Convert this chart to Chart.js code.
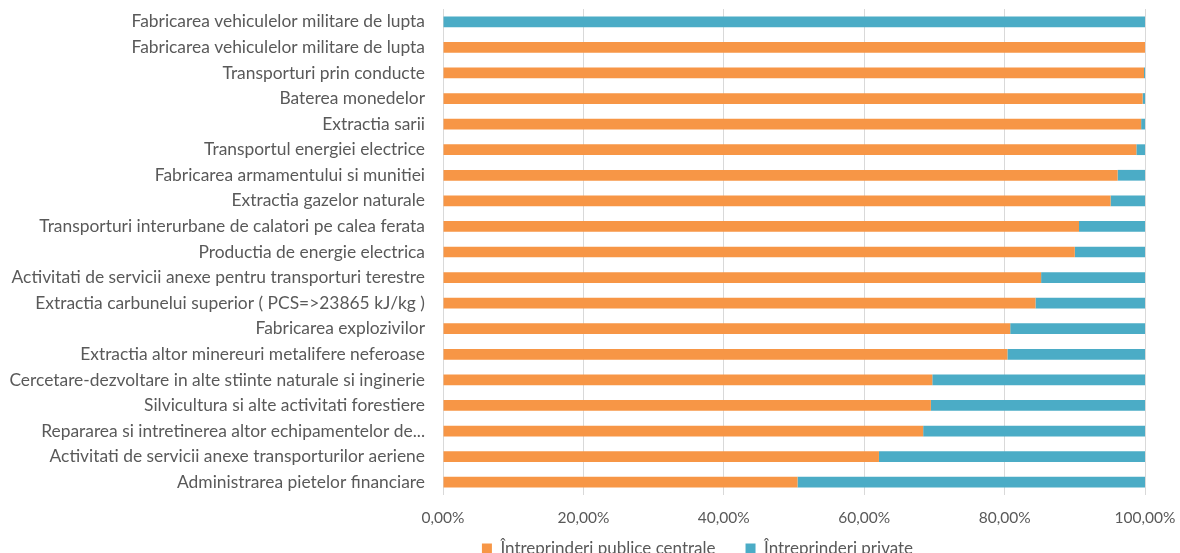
<!DOCTYPE html>
<html>
<head>
<meta charset="utf-8">
<script src="https://cdn.jsdelivr.net/npm/chart.js@4"></script>
<style>
  html, body { margin: 0; padding: 0; background: #fff; overflow: hidden; }
  #wrap { width: 1180px; height: 590px; }
</style>
</head>
<body>
<div id="wrap"><canvas id="chart" width="1180" height="590"></canvas></div>
<script>
// categories, top to bottom as in the picture
const categories = [
    "Fabricarea vehiculelor militare de lupta",
    "Fabricarea vehiculelor militare de lupta",
    "Transporturi prin conducte",
    "Baterea monedelor",
    "Extractia sarii",
    "Transportul energiei electrice",
    "Fabricarea armamentului si munitiei",
    "Extractia gazelor naturale",
    "Transporturi interurbane de calatori pe calea ferata",
    "Productia de energie electrica",
    "Activitati de servicii anexe pentru transporturi terestre",
    "Extractia carbunelui superior ( PCS=>23865 kJ/kg )",
    "Fabricarea explozivilor",
    "Extractia altor minereuri metalifere neferoase",
    "Cercetare-dezvoltare in alte stiinte naturale si inginerie",
    "Silvicultura si alte activitati forestiere",
    "Repararea si intretinerea altor echipamentelor de...",
    "Activitati de servicii anexe transporturilor aeriene",
    "Administrarea pietelor financiare"
];

// share of central public enterprises (%)
const publicShare = [0, 100, 99.86, 99.66, 99.45, 98.77, 96.1, 95.1, 90.6, 90.0,
                     85.2, 84.4, 80.8, 80.4, 69.7, 69.5, 68.4, 62.1, 50.5];
// share of private enterprises (%)
const privateShare = [100, 0, 0.14, 0.34, 0.55, 1.23, 3.9, 4.9, 9.4, 10.0,
                      14.8, 15.6, 19.2, 19.6, 30.3, 30.5, 31.6, 37.9, 49.5];

const seriesNames = ["Întreprinderi publice centrale", "Întreprinderi private"];
const xTicks = [0, 20, 40, 60, 80, 100];

const textColor = "#595959";
const fontFamily = "Lato, 'Open Sans', sans-serif";

// move the legend where Excel placed it (centred a bit right, close under the axis)
const legendShift = {
    id: "legendShift",
    beforeDraw(chart) {
        const lg = chart.legend;
        lg.left = 250;
        lg.right = 1145;
        lg.top = 510;
    }
};

const ctx = document.getElementById("chart").getContext("2d");
new Chart(ctx, {
    type: "bar",
    data: {
        labels: categories,
        datasets: [
            {
                label: seriesNames[0],
                data: publicShare,
                backgroundColor: "#F79646",
                borderWidth: 0,
                categoryPercentage: 1,
                barPercentage: 0.42
            },
            {
                label: seriesNames[1],
                data: privateShare,
                backgroundColor: "#4BACC6",
                borderWidth: 0,
                categoryPercentage: 1,
                barPercentage: 0.42
            }
        ]
    },
    options: {
        indexAxis: "y",
        responsive: false,
        animation: false,
        layout: { padding: { top: 9, right: 0, left: 0, bottom: 0 } },
        scales: {
            x: {
                stacked: true,
                min: 0,
                max: 100,
                afterBuildTicks: function (scale) {
                    scale.ticks = xTicks.map(v => ({ value: v }));
                },
                afterFit: function (scale) {
                    scale.height = 38;
                    scale.paddingRight = 35;
                },
                grid: { color: "#D9D9D9", drawTicks: false },
                border: { display: false },
                ticks: {
                    padding: 14,
                    color: textColor,
                    font: { family: fontFamily, size: 15.5 },
                    callback: v => v.toFixed(2).replace(".", ",") + "%"
                }
            },
            y: {
                stacked: true,
                afterFit: function (scale) {
                    scale.width = 443;
                    scale.paddingTop = 0;
                    scale.paddingBottom = 0;
                },
                grid: { display: false, drawTicks: false },
                border: { display: false },
                ticks: {
                    padding: 18,
                    color: textColor,
                    autoSkip: false,
                    font: { family: fontFamily, size: 17.4 }
                }
            }
        },
        plugins: {
            legend: {
                position: "bottom",
                labels: {
                    boxWidth: 10,
                    boxHeight: 10,
                    padding: 30,
                    color: textColor,
                    font: { family: fontFamily, size: 17 }
                }
            },
            tooltip: { enabled: false }
        }
    },
    plugins: [legendShift]
});
</script>
</body>
</html>
